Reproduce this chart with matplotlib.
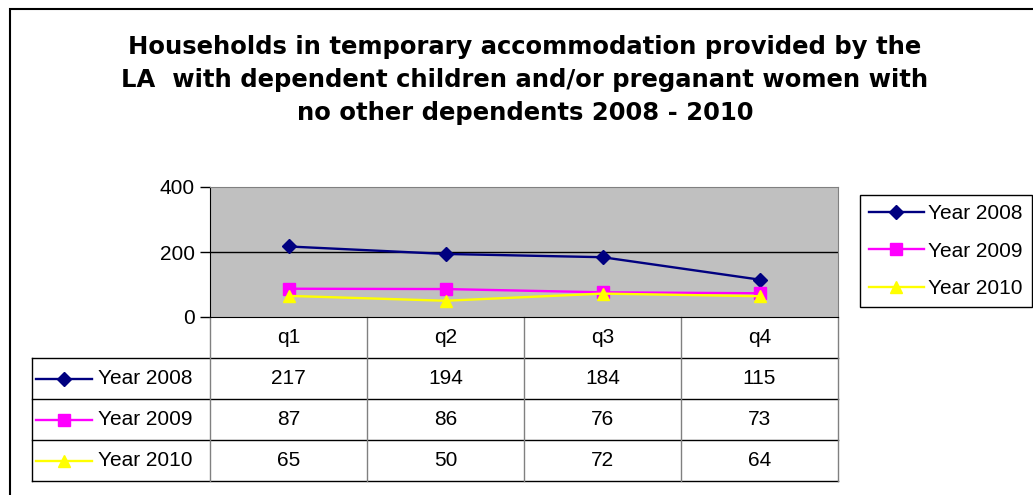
import matplotlib
matplotlib.use('Agg')
import matplotlib.pyplot as plt
import matplotlib.transforms as mtransforms
from matplotlib.lines import Line2D
from matplotlib.patches import Rectangle

# data
quarters = ['q1', 'q2', 'q3', 'q4']
series_names = ['Year 2008', 'Year 2009', 'Year 2010']
year_2008 = [217, 194, 184, 115]
year_2009 = [87, 86, 76, 73]
year_2010 = [65, 50, 72, 64]
y_ticks = [0, 200, 400]

title = ('Households in temporary accommodation provided by the\n'
         'LA  with dependent children and/or preganant women with\n'
         'no other dependents 2008 - 2010')

styles = [
    dict(color='#000080', marker='D', markersize=7),
    dict(color='#FF00FF', marker='s', markersize=8),
    dict(color='#FFFF00', marker='^', markersize=9),
]

W, H = 1033, 495
FS = 15
plt.rcParams['font.family'] = ['Liberation Sans', 'DejaVu Sans']
fig = plt.figure(figsize=(W / 100, H / 100), dpi=100)


def px(x0, y0, x1, y1):
    """pixel box (from top-left) -> figure fraction rect"""
    return [x0 / W, 1 - y1 / H, (x1 - x0) / W, (y1 - y0) / H]


# outer chart frame
fig.add_artist(Rectangle((10 / W, -0.1), 1.2, 1 - 9 / H + 0.1, transform=fig.transFigure,
                         fill=False, edgecolor='black', linewidth=1.5))

fig.text(525 / W, 1 - 80 / H, title, ha='center', va='center', fontsize=17.5,
         fontweight='bold', family='DejaVu Sans', linespacing=1.45)

ax = fig.add_axes(px(210, 187, 838, 317))
ax.set_facecolor('#C0C0C0')
x = list(range(len(quarters)))
all_series = [year_2008, year_2009, year_2010]
for vals, name, st in zip(all_series, series_names, styles):
    ax.plot(x, vals, label=name, linewidth=1.7, color=st['color'], marker=st['marker'],
            markersize=st['markersize'], markerfacecolor=st['color'],
            markeredgecolor=st['color'], clip_on=False, zorder=3)

ax.set_xlim(-0.5, len(quarters) - 0.5)
ax.set_ylim(0, 400)
ax.set_yticks(y_ticks)
ax.set_xticks([])
ax.tick_params(axis='y', direction='out', length=7, width=1, labelsize=FS, pad=4)
for yt in y_ticks[1:-1]:
    ax.axhline(yt, color='black', linewidth=1, zorder=1)
for side in ['top', 'right']:
    ax.spines[side].set_color('#808080')
ax.spines['left'].set_color('black')
ax.spines['bottom'].set_color('black')

# data table under the plot, columns aligned with categories
trans = mtransforms.blended_transform_factory(ax.transData, ax.transAxes)
row_h = 41.0 / 130
col_px = 628 / len(quarters)
label_left = -0.5 - 178 / col_px
n = len(quarters)
ys = [0, -row_h, -2 * row_h, -3 * row_h, -4 * row_h]


def hline(x0, x1, y, color='black'):
    ax.add_line(Line2D([x0, x1], [y, y], transform=trans, color=color, linewidth=1,
                       clip_on=False))


def vline(xv, y0, y1, color='#808080'):
    ax.add_line(Line2D([xv, xv], [y0, y1], transform=trans, color=color, linewidth=1,
                       clip_on=False))


for yv in ys[1:]:
    hline(label_left, n - 0.5, yv)
for i in range(n + 1):
    vline(i - 0.5, ys[0], ys[-1])
vline(label_left, ys[1], ys[-1], color='black')

for i, q in enumerate(quarters):
    ax.text(i, -row_h / 2, q, transform=trans, ha='center', va='center', fontsize=FS)

for r, (vals, name, st) in enumerate(zip(all_series, series_names, styles)):
    yc = -(r + 1.5) * row_h
    kx0 = label_left + 4 / col_px
    kx1 = label_left + 60 / col_px
    ax.add_line(Line2D([kx0, kx1], [yc, yc], transform=trans, color=st['color'],
                       linewidth=1.7, clip_on=False))
    ax.add_line(Line2D([(kx0 + kx1) / 2], [yc], transform=trans, color=st['color'],
                       marker=st['marker'], markersize=st['markersize'],
                       linestyle='none', clip_on=False))
    ax.text(label_left + 66 / col_px, yc, name, transform=trans, ha='left', va='center',
            fontsize=FS)
    for i, v in enumerate(vals):
        ax.text(i, yc, str(v), transform=trans, ha='center', va='center', fontsize=FS)

# legend
leg = fig.legend(loc='upper left', bbox_to_anchor=(860 / W, 1 - 195 / H), borderaxespad=0,
                 fontsize=FS, fancybox=False, edgecolor='black', framealpha=1,
                 handlelength=2.6, handletextpad=0.2, labelspacing=0.88, borderpad=0.45)
leg.get_frame().set_linewidth(1)

fig.savefig('out.png', dpi=100)
